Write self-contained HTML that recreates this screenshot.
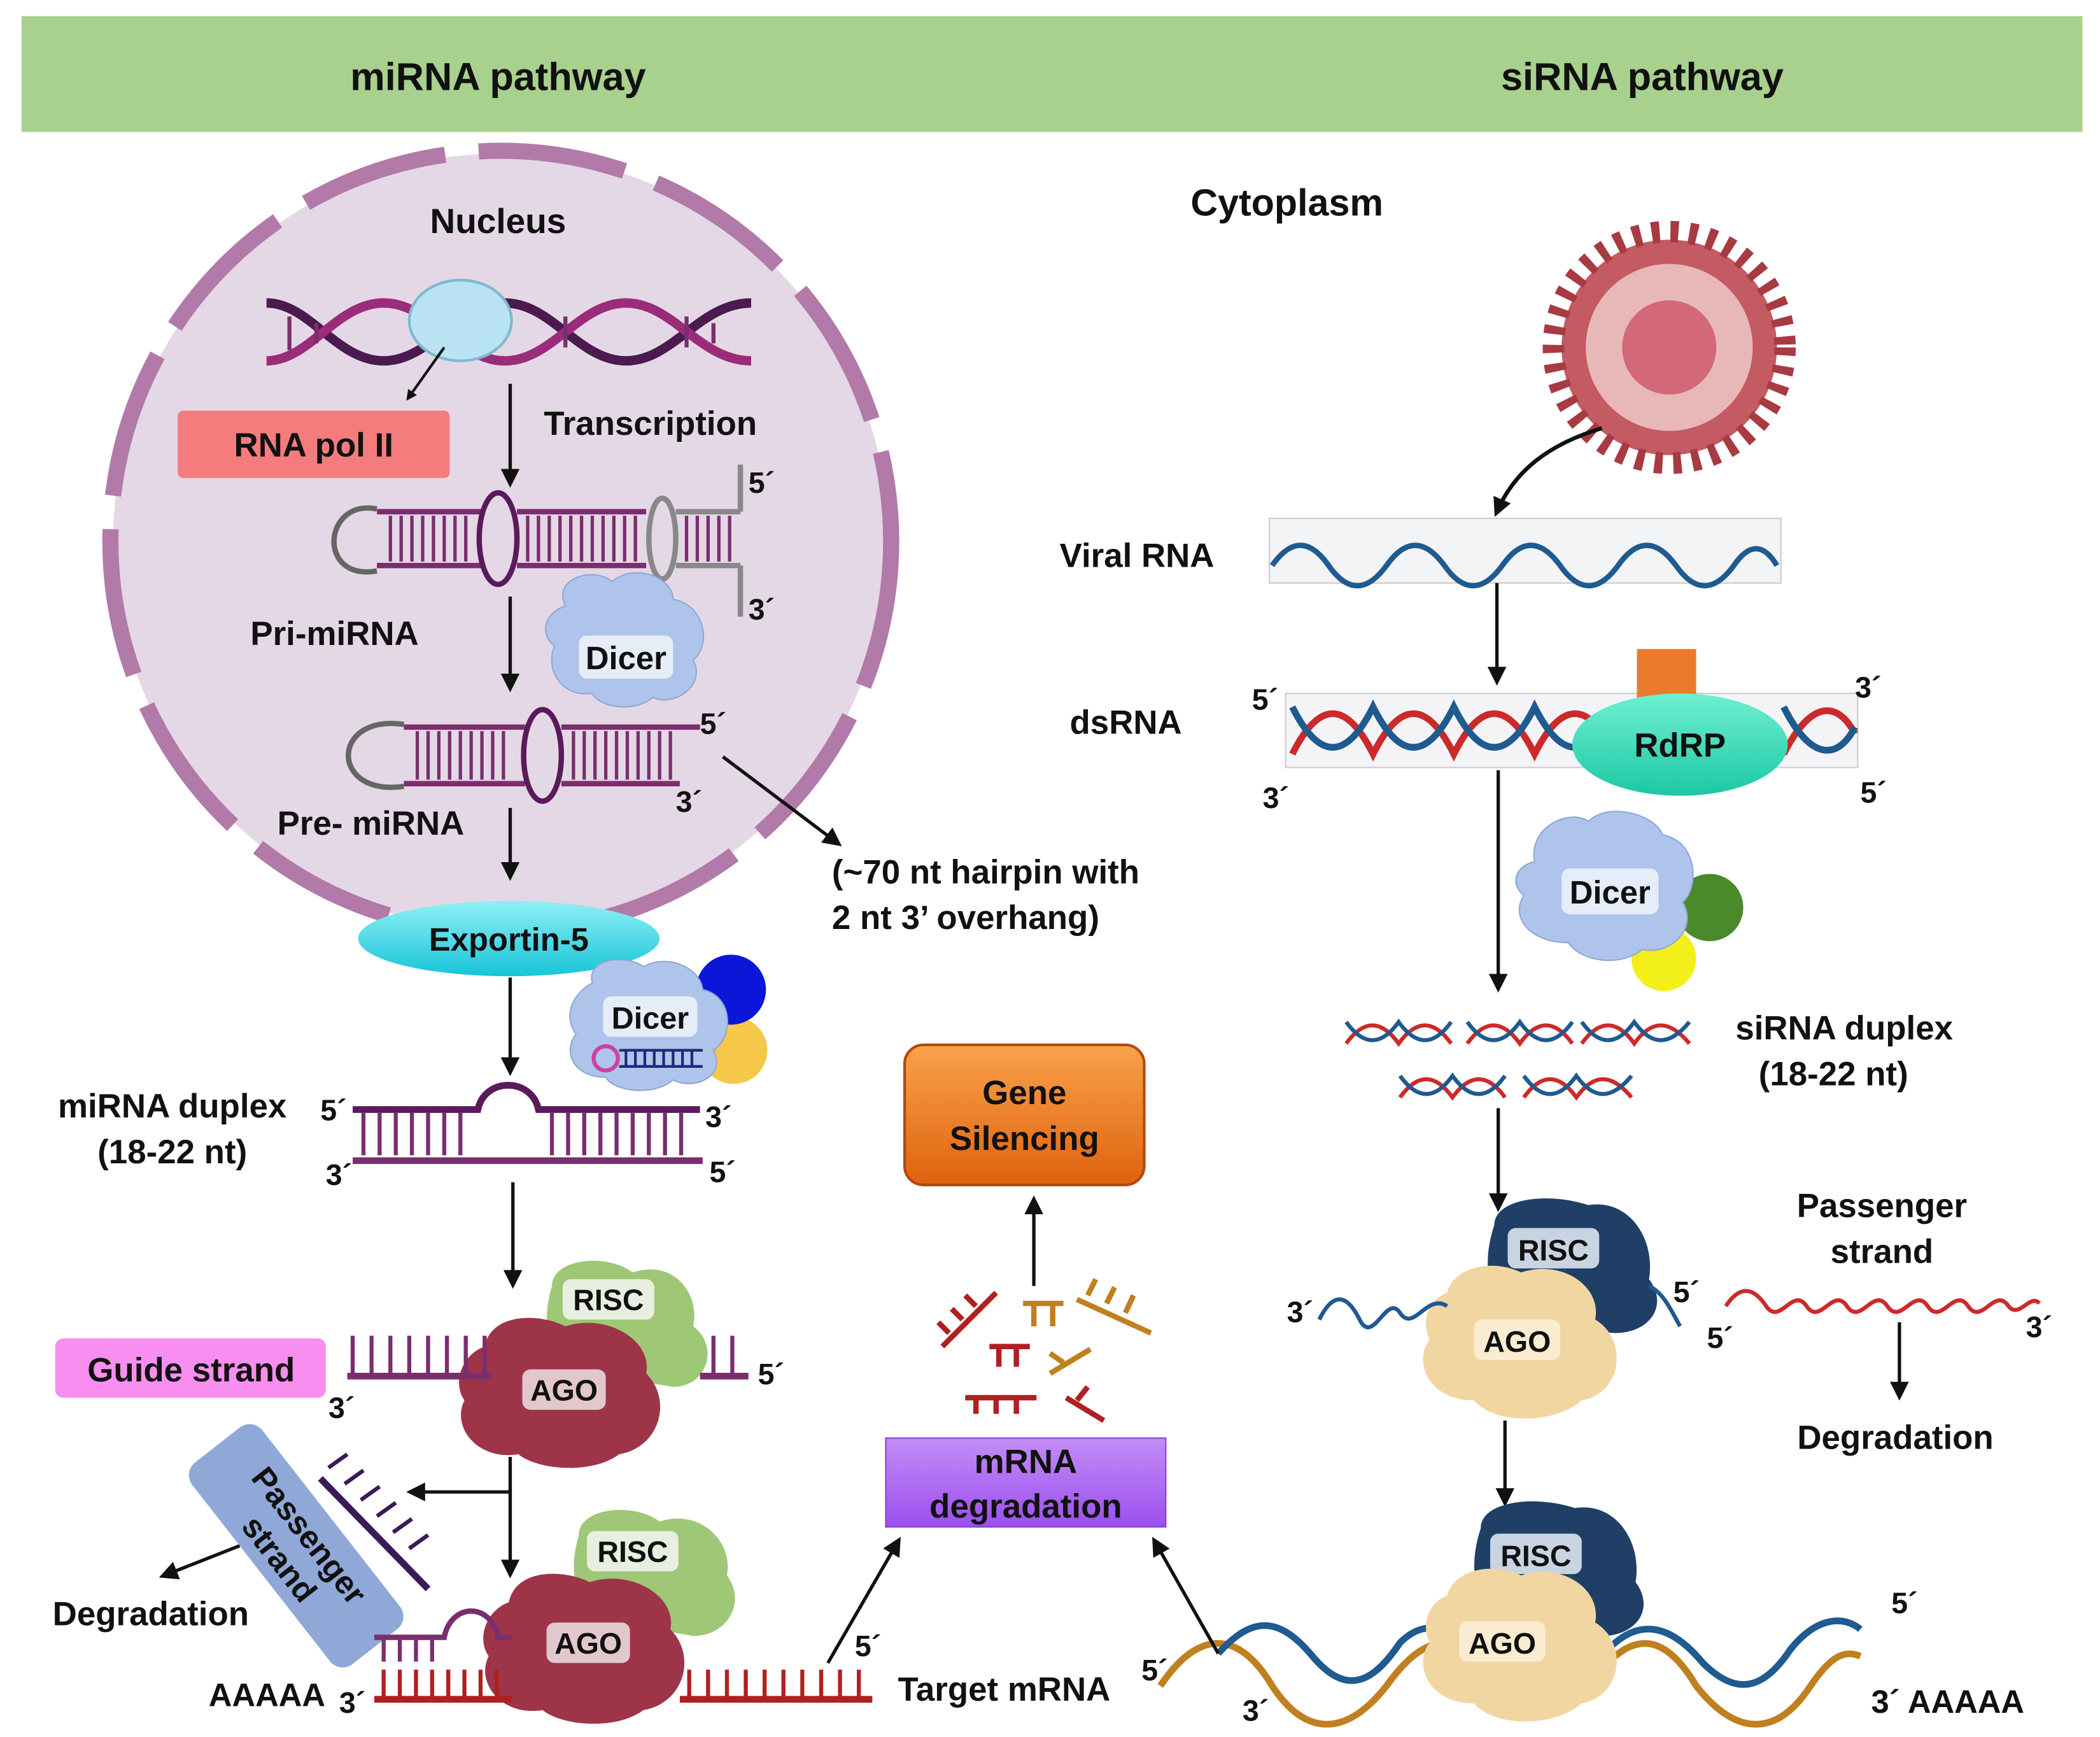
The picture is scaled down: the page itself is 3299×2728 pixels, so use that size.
<!DOCTYPE html>
<html><head><meta charset="utf-8"><style>
html,body{margin:0;padding:0;background:#fff}
svg{display:block}
text{font-family:"Liberation Sans",Arial,sans-serif;font-weight:bold;fill:#111}
</style></head><body>
<svg width="3299" height="2728" viewBox="0 0 1560 1290" xmlns="http://www.w3.org/2000/svg">
<defs>
<marker id="ar" markerWidth="8" markerHeight="8" refX="6" refY="4" orient="auto" markerUnits="userSpaceOnUse">
<path d="M0,0 L8,4 L0,8 Z" fill="#111"/></marker>
<marker id="a2" viewBox="0 0 10 10" markerWidth="14" markerHeight="14" refX="7" refY="5" orient="auto" markerUnits="userSpaceOnUse"><path d="M0,0 L10,5 L0,10 Z" fill="#111"/></marker>
<linearGradient id="eg" x1="0" y1="0" x2="0" y2="1"><stop offset="0" stop-color="#8ff0f5"/><stop offset="1" stop-color="#18c4d8"/></linearGradient>
<linearGradient id="rg" x1="0" y1="0" x2="0" y2="1"><stop offset="0" stop-color="#6ff0d2"/><stop offset="1" stop-color="#1cc8a4"/></linearGradient>
<linearGradient id="og" x1="0" y1="0" x2="0" y2="1"><stop offset="0" stop-color="#f9a24a"/><stop offset="1" stop-color="#e0620e"/></linearGradient>
<linearGradient id="pg" x1="0" y1="0" x2="0" y2="1"><stop offset="0" stop-color="#c48df7"/><stop offset="1" stop-color="#9b4fee"/></linearGradient>
</defs>

<!-- header -->
<rect x="16" y="12" width="1531" height="86" fill="#a9d18e"/>
<text x="370" y="67" font-size="29" text-anchor="middle">miRNA pathway</text>
<text x="1220" y="67" font-size="29" text-anchor="middle">siRNA pathway</text>

<!-- nucleus -->
<circle cx="372" cy="402" r="288" fill="#e5d8e6"/>
<circle cx="372" cy="402" r="290" fill="none" stroke="#b27aa8" stroke-width="12" stroke-dasharray="110 25"/>
<text x="370" y="173" font-size="26" text-anchor="middle">Nucleus</text>

<!-- DNA -->
<g fill="none" stroke-width="7">
<path d="M198,225 C230,225 250,268 285,268 C320,268 340,225 375,225 C410,225 430,268 465,268 C500,268 520,225 558,225" stroke="#4b1a4f"/>
<path d="M198,268 C230,268 250,225 285,225 C320,225 340,268 375,268 C410,268 430,225 465,225 C500,225 520,268 558,268" stroke="#9a2c7a"/>
</g>
<g stroke="#7a2e6e" stroke-width="3">
<line x1="215" y1="235" x2="215" y2="260"/><line x1="235" y1="240" x2="235" y2="255"/><line x1="330" y1="235" x2="330" y2="258"/><line x1="420" y1="235" x2="420" y2="258"/><line x1="510" y1="235" x2="510" y2="258"/><line x1="530" y1="240" x2="530" y2="255"/>
</g>
<ellipse cx="342" cy="238" rx="38" ry="30" fill="#b9e3f2" stroke="#7fb8d0" stroke-width="2"/>
<line x1="330" y1="258" x2="303" y2="296" stroke="#111" stroke-width="2" marker-end="url(#ar)"/>
<rect x="132" y="305" width="202" height="50" rx="4" fill="#f47c7c"/>
<text x="233" y="339" font-size="25" text-anchor="middle">RNA pol II</text>
<line x1="379" y1="285" x2="379" y2="358" stroke="#111" stroke-width="2.5" marker-end="url(#a2)"/>
<text x="404" y="323" font-size="25">Transcription</text>

<!-- pri-miRNA -->
<g fill="none" stroke-width="4">
<path d="M280,378 C240,370 235,432 280,424" stroke="#666"/>
<line x1="280" y1="380" x2="360" y2="380" stroke="#7a2e6e"/><line x1="280" y1="420" x2="360" y2="420" stroke="#7a2e6e"/>
<ellipse cx="370" cy="400" rx="14" ry="34" stroke="#5a1a5a"/>
<line x1="384" y1="380" x2="480" y2="380" stroke="#7a2e6e"/><line x1="384" y1="420" x2="480" y2="420" stroke="#7a2e6e"/>
<ellipse cx="492" cy="400" rx="10" ry="30" stroke="#888"/>
<line x1="502" y1="380" x2="550" y2="380" stroke="#888"/><line x1="502" y1="420" x2="550" y2="420" stroke="#888"/>
<line x1="550" y1="345" x2="550" y2="380" stroke="#888"/><line x1="550" y1="420" x2="550" y2="458" stroke="#888"/>
</g>
<path d="M290,383 V417 M298,383 V417 M306,383 V417 M314,383 V417 M322,383 V417 M330,383 V417 M338,383 V417 M346,383 V417 M392,383 V417 M400,383 V417 M408,383 V417 M416,383 V417 M424,383 V417 M432,383 V417 M440,383 V417 M448,383 V417 M456,383 V417 M464,383 V417 M472,383 V417 M510,383 V417 M518,383 V417 M526,383 V417 M534,383 V417 M542,383 V417" stroke="#7a2e6e" stroke-width="2.5"/>
<text x="556" y="366" font-size="22">5´</text><text x="556" y="460" font-size="22">3´</text>
<text x="186" y="479" font-size="25">Pri-miRNA</text>
<line x1="379" y1="443" x2="379" y2="510" stroke="#111" stroke-width="2.5" marker-end="url(#a2)"/>
<!-- dicer nucleus -->
<path d="M420,450 C410,430 440,420 455,432 C470,418 500,428 500,445 C525,450 528,480 515,490 C525,510 500,525 485,518 C470,530 445,525 440,515 C415,518 405,495 412,480 C400,470 405,455 420,450Z" fill="#aec4ea" stroke="#8fa8d8"/>
<rect x="430" y="472" width="70" height="32" rx="6" fill="#e5edf9"/>
<text x="465" y="497" font-size="24" text-anchor="middle" fill="#1a2a5a">Dicer</text>

<!-- pre-miRNA -->
<g fill="none" stroke-width="4">
<path d="M300,538 C245,530 245,592 300,584" stroke="#666"/>
<line x1="300" y1="540" x2="390" y2="540" stroke="#7a2e6e"/><line x1="300" y1="582" x2="390" y2="582" stroke="#7a2e6e"/>
<ellipse cx="403" cy="561" rx="14" ry="34" stroke="#5a1a5a"/>
<line x1="417" y1="540" x2="520" y2="540" stroke="#7a2e6e"/><line x1="417" y1="582" x2="505" y2="582" stroke="#7a2e6e"/>
</g>
<path d="M310,543 V579 M318,543 V579 M326,543 V579 M334,543 V579 M342,543 V579 M350,543 V579 M358,543 V579 M366,543 V579 M374,543 V579 M426,543 V579 M434,543 V579 M442,543 V579 M450,543 V579 M458,543 V579 M466,543 V579 M474,543 V579 M482,543 V579 M490,543 V579 M498,543 V579" stroke="#7a2e6e" stroke-width="2.5"/>
<text x="520" y="545" font-size="22">5´</text><text x="502" y="603" font-size="22">3´</text>
<text x="206" y="620" font-size="25">Pre- miRNA</text>
<line x1="379" y1="600" x2="379" y2="650" stroke="#111" stroke-width="2.5" marker-end="url(#a2)"/>
<line x1="537" y1="562" x2="622" y2="626" stroke="#111" stroke-width="2.5" marker-end="url(#a2)"/>
<text x="618" y="656" font-size="25">(~70 nt hairpin with</text>
<text x="618" y="690" font-size="25">2 nt 3’ overhang)</text>

<!-- exportin -->
<ellipse cx="378" cy="697" rx="112" ry="28" fill="url(#eg)"/>
<text x="378" y="706" font-size="24" text-anchor="middle">Exportin-5</text>
<line x1="379" y1="726" x2="379" y2="795" stroke="#111" stroke-width="2.5" marker-end="url(#a2)"/>
<!-- dicer 2 -->
<circle cx="545" cy="780" r="25" fill="#f5c84a"/>
<circle cx="543" cy="735" r="26" fill="#0b16d8"/>
<path d="M440,730 C435,712 465,708 478,718 C495,708 520,718 522,735 C545,740 545,770 530,780 C540,800 515,810 500,802 C485,815 455,810 450,800 C425,800 418,780 428,768 C418,755 425,738 440,730Z" fill="#aec4ea" stroke="#8fa8d8"/>
<rect x="448" y="740" width="70" height="30" rx="6" fill="#e5edf9"/>
<text x="483" y="764" font-size="23" text-anchor="middle" fill="#1a2a5a">Dicer</text>
<circle cx="450" cy="786" r="9" fill="none" stroke="#d040a0" stroke-width="3"/>
<path d="M460,780 H522 M460,792 H522 M465,780 V792 M472,780 V792 M479,780 V792 M486,780 V792 M493,780 V792 M500,780 V792 M507,780 V792 M514,780 V792" stroke="#1a2a7a" stroke-width="2"/>

<!-- miRNA duplex -->
<text x="128" y="830" font-size="25" text-anchor="middle">miRNA duplex</text>
<text x="128" y="864" font-size="25" text-anchor="middle">(18-22 nt)</text>
<path d="M262,824 H355 C360,800 395,800 400,824 H520" fill="none" stroke="#5a1a5a" stroke-width="5"/>
<line x1="262" y1="862" x2="522" y2="862" stroke="#7a2e6e" stroke-width="5"/>
<path d="M270,826 V858 M282,826 V858 M294,826 V858 M306,826 V858 M318,826 V858 M330,826 V858 M342,826 V858 M410,826 V858 M422,826 V858 M434,826 V858 M446,826 V858 M458,826 V858 M470,826 V858 M482,826 V858 M494,826 V858 M506,826 V858" stroke="#7a2e6e" stroke-width="3"/>
<text x="238" y="832" font-size="22">5´</text><text x="242" y="880" font-size="22">3´</text>
<text x="524" y="837" font-size="22">3´</text><text x="527" y="878" font-size="22">5´</text>
<line x1="381" y1="878" x2="381" y2="953" stroke="#111" stroke-width="2.5" marker-end="url(#a2)"/>

<!-- RISC AGO 1 -->
<path d="M410,955 C410,935 450,930 470,945 C500,935 520,960 515,985 C535,1000 525,1030 500,1030 L440,1020 C410,1010 400,990 410,955Z" fill="#9ec776"/>
<rect x="418" y="950" width="68" height="30" rx="6" fill="#e8efe0"/>
<text x="452" y="973" font-size="22" text-anchor="middle">RISC</text>
<path d="M360,1000 C365,975 400,975 420,985 C450,975 485,995 480,1020 C500,1040 490,1075 460,1080 C440,1095 400,1092 385,1080 C355,1085 335,1060 345,1040 C335,1025 345,1005 360,1000Z" fill="#9e3448"/>
<rect x="388" y="1017" width="62" height="30" rx="6" fill="#e2c8cc"/>
<text x="419" y="1040" font-size="22" text-anchor="middle">AGO</text>
<rect x="41" y="994" width="201" height="44" rx="6" fill="#f88ef0"/>
<text x="142" y="1026" font-size="25" text-anchor="middle">Guide strand</text>
<line x1="258" y1="1022" x2="365" y2="1022" stroke="#7a2e6e" stroke-width="5"/>
<line x1="520" y1="1022" x2="556" y2="1022" stroke="#7a2e6e" stroke-width="5"/>
<path d="M262,992 V1020 M276,992 V1020 M290,992 V1020 M304,992 V1020 M318,992 V1020 M332,992 V1020 M346,992 V1020 M360,992 V1020 M530,992 V1020 M544,992 V1020" stroke="#7a2e6e" stroke-width="3"/>
<text x="244" y="1053" font-size="22">3´</text><text x="563" y="1028" font-size="22">5´</text>

<line x1="379" y1="1082" x2="379" y2="1168" stroke="#111" stroke-width="2.5" marker-end="url(#a2)"/>
<line x1="379" y1="1108" x2="306" y2="1108" stroke="#111" stroke-width="2.5" marker-end="url(#a2)"/>
<!-- passenger strand box -->
<g transform="translate(220,1148) rotate(52)">
<rect x="-95" y="-33" width="190" height="66" rx="12" fill="#8fa8d8"/>
<text x="0" y="-4" font-size="24" text-anchor="middle">Passenger</text>
<text x="0" y="24" font-size="24" text-anchor="middle">strand</text>
</g>
<line x1="238" y1="1098" x2="318" y2="1180" stroke="#3a1a5a" stroke-width="5"/>
<path d="M244,1090 L258,1080 M256,1102 L270,1092 M268,1114 L282,1104 M280,1126 L294,1116 M292,1138 L306,1128 M304,1150 L318,1140" stroke="#3a1a5a" stroke-width="3"/>
<line x1="178" y1="1148" x2="122" y2="1170" stroke="#111" stroke-width="2.5" marker-end="url(#a2)"/>
<text x="112" y="1207" font-size="25" text-anchor="middle">Degradation</text>

<!-- RISC AGO 2 -->
<path d="M430,1140 C430,1120 470,1115 490,1130 C520,1120 545,1145 540,1170 C555,1190 540,1215 515,1215 L460,1205 C430,1195 420,1175 430,1140Z" fill="#9ec776"/>
<rect x="436" y="1137" width="68" height="30" rx="6" fill="#e8efe0"/>
<text x="470" y="1160" font-size="22" text-anchor="middle">RISC</text>
<path d="M378,1190 C383,1165 418,1165 438,1175 C468,1165 503,1185 498,1210 C518,1230 508,1265 478,1270 C458,1285 418,1282 403,1270 C373,1275 353,1250 363,1230 C353,1215 363,1195 378,1190Z" fill="#9e3448"/>
<rect x="406" y="1205" width="62" height="30" rx="6" fill="#e2c8cc"/>
<text x="437" y="1228" font-size="22" text-anchor="middle">AGO</text>
<path d="M278,1216 H330 C335,1190 365,1190 370,1216 H380" fill="none" stroke="#7a2e6e" stroke-width="4"/>
<path d="M285,1216 V1234 M297,1216 V1234 M309,1216 V1234 M321,1216 V1234" stroke="#7a2e6e" stroke-width="3"/>
<line x1="278" y1="1262" x2="380" y2="1262" stroke="#b02020" stroke-width="5"/>
<line x1="505" y1="1262" x2="648" y2="1262" stroke="#b02020" stroke-width="5"/>
<path d="M285,1240 V1260 M297,1240 V1260 M309,1240 V1260 M321,1240 V1260 M333,1240 V1260 M345,1240 V1260 M357,1240 V1260 M369,1240 V1260 M512,1240 V1260 M526,1240 V1260 M540,1240 V1260 M554,1240 V1260 M568,1240 V1260 M582,1240 V1260 M596,1240 V1260 M610,1240 V1260 M624,1240 V1260 M638,1240 V1260" stroke="#b02020" stroke-width="3"/>
<text x="155" y="1267" font-size="24">AAAAA</text><text x="252" y="1272" font-size="22">3´</text>
<text x="635" y="1230" font-size="22">5´</text>
<text x="667" y="1263" font-size="25">Target mRNA</text>
<line x1="615" y1="1235" x2="667" y2="1145" stroke="#111" stroke-width="2.5" marker-end="url(#a2)"/>

<!-- mRNA degradation & gene silencing -->
<rect x="658" y="1068" width="208" height="66" fill="url(#pg)" stroke="#8a40d0"/>
<text x="762" y="1094" font-size="25" text-anchor="middle">mRNA</text>
<text x="762" y="1127" font-size="25" text-anchor="middle">degradation</text>
<g stroke-width="4" fill="none">
<path d="M700,1000 L740,960 M705,990 L697,982 M715,980 L707,972 M725,970 L717,962" stroke="#b02020"/>
<path d="M760,968 H790 M768,968 V985 M782,968 V985" stroke="#c08020"/>
<path d="M800,965 L855,990 M808,962 L814,950 M822,968 L828,956 M836,975 L842,962" stroke="#c08020"/>
<path d="M735,1000 H765 M742,1000 V1015 M755,1000 V1015" stroke="#b02020"/>
<path d="M780,1020 L810,1002 M790,1012 L780,1005" stroke="#c08020"/>
<path d="M717,1038 H770 M725,1038 V1050 M740,1038 V1050 M755,1038 V1050" stroke="#b02020"/>
<path d="M792,1038 L820,1055 M800,1040 L808,1030" stroke="#b02020"/>
</g>
<line x1="768" y1="955" x2="768" y2="892" stroke="#111" stroke-width="2.5" marker-end="url(#a2)"/>
<rect x="672" y="776" width="178" height="104" rx="14" fill="url(#og)" stroke="#b04a10" stroke-width="2"/>
<text x="761" y="820" font-size="25" text-anchor="middle">Gene</text>
<text x="761" y="854" font-size="25" text-anchor="middle">Silencing</text>

<!-- siRNA side -->
<text x="956" y="160" font-size="28" text-anchor="middle">Cytoplasm</text>
<!-- virus -->
<circle cx="1240" cy="258" r="80" fill="#c45a62"/>
<circle cx="1240" cy="258" r="62" fill="#e8b8b8"/>
<circle cx="1240" cy="258" r="86" fill="none" stroke="#a83a42" stroke-width="16" stroke-dasharray="6 8"/>
<circle cx="1240" cy="258" r="35" fill="#d26878"/>
<path d="M1190,318 C1150,330 1125,350 1112,380" fill="none" stroke="#111" stroke-width="3" marker-end="url(#a2)"/>
<text x="902" y="421" font-size="25" text-anchor="end">Viral RNA</text>
<rect x="943" y="385" width="380" height="48" fill="#f2f4f6" stroke="#c8ccd0"/>
<path d="M945,420 Q966,390 987,420 Q1008,450 1030,420 Q1051,390 1073,420 Q1094,450 1116,420 Q1137,390 1159,420 Q1180,450 1202,420 Q1223,390 1245,420 Q1266,450 1288,420 Q1305,395 1320,420" fill="none" stroke="#1f5a90" stroke-width="4"/>
<line x1="1112" y1="433" x2="1112" y2="505" stroke="#111" stroke-width="2.5" marker-end="url(#a2)"/>
<text x="878" y="545" font-size="25" text-anchor="end">dsRNA</text>
<rect x="955" y="515" width="425" height="55" fill="#f4f4f6" stroke="#c8ccd0"/>
<path d="M960,560 C980,520 1000,520 1020,560 C1040,520 1060,520 1080,560 C1100,520 1120,520 1140,560 C1160,520 1180,520 1200,560 M1325,560 C1345,520 1365,520 1378,545" fill="none" stroke="#cc2a2a" stroke-width="5"/>
<path d="M960,525 C980,565 1000,565 1020,525 C1040,565 1060,565 1080,525 C1100,565 1120,565 1140,525 C1160,565 1180,565 1200,525 M1325,525 C1345,565 1365,565 1378,540" fill="none" stroke="#1f5a90" stroke-width="5"/>
<rect x="1216" y="482" width="44" height="36" fill="#ec7a2c"/>
<ellipse cx="1248" cy="553" rx="80" ry="38" fill="url(#rg)"/>
<text x="1248" y="562" font-size="25" text-anchor="middle">RdRP</text>
<text x="930" y="527" font-size="22">5´</text><text x="938" y="600" font-size="22">3´</text>
<text x="1378" y="518" font-size="22">3´</text><text x="1382" y="596" font-size="22">5´</text>
<line x1="1113" y1="572" x2="1113" y2="733" stroke="#111" stroke-width="2.5" marker-end="url(#a2)"/>
<!-- dicer right -->
<circle cx="1236" cy="712" r="24" fill="#f2ef1a"/>
<circle cx="1270" cy="674" r="25" fill="#4a8a2a"/>
<path d="M1140,640 C1135,615 1165,600 1180,610 C1195,595 1230,605 1235,620 C1262,625 1262,660 1250,670 C1262,690 1240,710 1220,705 C1205,718 1175,715 1165,700 C1135,700 1122,680 1132,665 C1120,655 1128,642 1140,640Z" fill="#aec4ea" stroke="#8fa8d8"/>
<rect x="1160" y="645" width="72" height="34" rx="6" fill="#e5edf9"/>
<text x="1196" y="671" font-size="24" text-anchor="middle" fill="#1a2a5a">Dicer</text>
<!-- siRNA duplexes -->
<g fill="none" stroke-width="3">
<path d="M1000,775 C1013,757 1026,757 1039,775 C1052,757 1065,757 1078,775 M1090,775 C1103,757 1116,757 1129,775 C1142,757 1155,757 1168,775 M1175,775 C1188,757 1201,757 1214,775 C1227,757 1240,757 1255,775 M1040,815 C1053,797 1066,797 1079,815 C1092,797 1105,797 1118,815 M1132,815 C1145,797 1158,797 1171,815 C1184,797 1197,797 1212,815" stroke="#cc2a2a"/>
<path d="M1000,759 C1013,777 1026,777 1039,759 C1052,777 1065,777 1078,759 M1090,759 C1103,777 1116,777 1129,759 C1142,777 1155,777 1168,759 M1175,759 C1188,777 1201,777 1214,759 C1227,777 1240,777 1255,759 M1040,799 C1053,817 1066,817 1079,799 C1092,817 1105,817 1118,799 M1132,799 C1145,817 1158,817 1171,799 C1184,817 1197,817 1212,799" stroke="#1f5a90"/>
</g>
<text x="1370" y="772" font-size="25" text-anchor="middle">siRNA duplex</text>
<text x="1362" y="806" font-size="25" text-anchor="middle">(18-22 nt)</text>
<line x1="1113" y1="823" x2="1113" y2="896" stroke="#111" stroke-width="2.5" marker-end="url(#a2)"/>
<!-- RISC AGO right 1 -->
<path d="M1110,910 C1110,890 1150,885 1180,895 C1210,890 1230,920 1225,950 C1240,970 1225,990 1200,990 L1130,985 C1105,970 1100,940 1110,910Z" fill="#1f3f66"/>
<rect x="1120" y="912" width="68" height="30" rx="6" fill="#c8d4e2"/>
<text x="1154" y="936" font-size="22" text-anchor="middle" fill="#1a2a4a">RISC</text>
<path d="M1075,960 C1080,940 1110,935 1130,945 C1160,935 1190,955 1185,980 C1210,995 1205,1035 1175,1040 C1155,1058 1110,1058 1095,1040 C1060,1040 1050,1010 1062,995 C1055,980 1062,965 1075,960Z" fill="#f2d6a2"/>
<rect x="1095" y="980" width="64" height="30" rx="6" fill="#faecd0"/>
<text x="1127" y="1004" font-size="22" text-anchor="middle">AGO</text>
<path d="M980,980 C990,960 1000,960 1010,980 C1020,1000 1030,960 1040,975 C1050,990 1060,960 1075,970" fill="none" stroke="#1f5a90" stroke-width="3"/>
<path d="M1225,955 C1235,960 1240,970 1248,985" fill="none" stroke="#1f5a90" stroke-width="3"/>
<text x="956" y="982" font-size="22">3´</text><text x="1243" y="967" font-size="22">5´</text>
<text x="1398" y="904" font-size="25" text-anchor="middle">Passenger</text>
<text x="1398" y="938" font-size="25" text-anchor="middle">strand</text>
<path d="M1282,970 C1292,955 1302,955 1312,970 C1322,985 1332,955 1342,970 C1352,985 1362,955 1372,970 C1382,985 1392,955 1402,970 C1412,985 1422,955 1432,970 C1442,985 1452,955 1462,970 C1472,985 1482,955 1492,970 C1500,980 1508,960 1515,968" fill="none" stroke="#cc2a2a" stroke-width="3"/>
<text x="1268" y="1001" font-size="22">5´</text><text x="1505" y="993" font-size="22">3´</text>
<line x1="1411" y1="982" x2="1411" y2="1036" stroke="#111" stroke-width="2.5" marker-end="url(#a2)"/>
<text x="1408" y="1076" font-size="25" text-anchor="middle">Degradation</text>
<line x1="1118" y1="1055" x2="1118" y2="1115" stroke="#111" stroke-width="2.5" marker-end="url(#a2)"/>
<!-- bottom right mRNA -->
<path d="M862,1252 C890,1210 920,1210 945,1252 C970,1290 1000,1290 1030,1252 C1060,1210 1085,1210 1110,1252 M1180,1252 C1210,1210 1235,1210 1260,1252 C1290,1290 1320,1290 1345,1252 C1360,1230 1370,1225 1382,1230" fill="none" stroke="#c08020" stroke-width="5"/>
<path d="M905,1228 C930,1200 950,1200 975,1230 C1000,1260 1020,1250 1040,1220 C1060,1200 1080,1210 1090,1230 M1190,1230 C1215,1200 1240,1205 1265,1235 C1290,1260 1310,1255 1330,1225 C1350,1200 1370,1200 1382,1210" fill="none" stroke="#1f5a90" stroke-width="5"/>
<path d="M1100,1135 C1100,1115 1140,1110 1170,1120 C1200,1115 1220,1145 1215,1175 C1230,1195 1215,1215 1190,1215 L1120,1210 C1095,1195 1090,1165 1100,1135Z" fill="#1f3f66"/>
<rect x="1107" y="1139" width="68" height="30" rx="6" fill="#c8d4e2"/>
<text x="1141" y="1163" font-size="22" text-anchor="middle" fill="#1a2a4a">RISC</text>
<path d="M1075,1185 C1080,1165 1110,1160 1130,1170 C1160,1160 1190,1180 1185,1205 C1210,1220 1205,1260 1175,1265 C1155,1283 1110,1283 1095,1265 C1060,1265 1050,1235 1062,1220 C1055,1205 1062,1190 1075,1185Z" fill="#f2d6a2"/>
<rect x="1084" y="1204" width="64" height="30" rx="6" fill="#faecd0"/>
<text x="1116" y="1228" font-size="22" text-anchor="middle">AGO</text>
<text x="848" y="1248" font-size="22">5´</text><text x="923" y="1278" font-size="22">3´</text>
<text x="1405" y="1198" font-size="22">5´</text>
<text x="1390" y="1272" font-size="24">3´ AAAAA</text>
<line x1="905" y1="1228" x2="858" y2="1145" stroke="#111" stroke-width="2.5" marker-end="url(#a2)"/>
</svg>
</body></html>
